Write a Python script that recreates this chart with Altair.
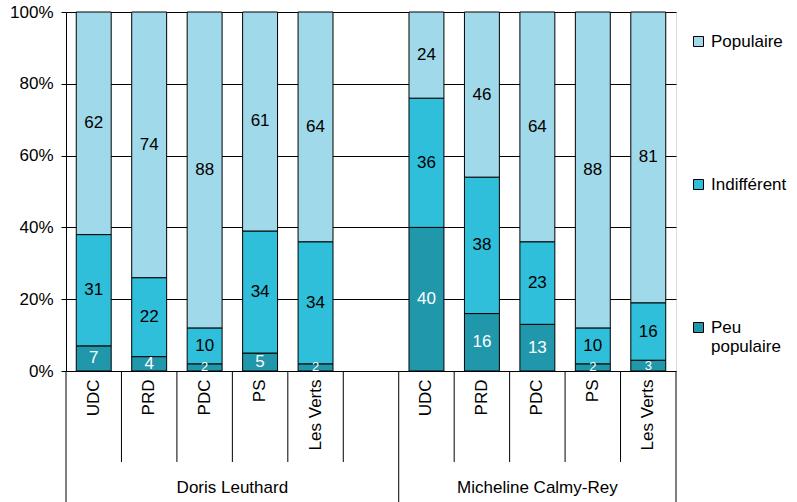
import altair as alt
import pandas as pd

candidates = ["Doris Leuthard", "Micheline Calmy-Rey"]
parties = ["UDC", "PRD", "PDC", "PS", "Les Verts"]
categories = ["Populaire", "Indifférent", "Peu populaire"]
stack_order = ["Peu populaire", "Indifférent", "Populaire"]
leuthard_peu = [7, 4, 2, 5, 2]
leuthard_ind = [31, 22, 10, 34, 34]
leuthard_pop = [62, 74, 88, 61, 64]
calmy_peu = [40, 16, 13, 2, 3]
calmy_ind = [36, 38, 23, 10, 16]
calmy_pop = [24, 46, 64, 88, 81]
y_ticks = [0, 20, 40, 60, 80, 100]
colors = ["#a0d9e9", "#2fbfda", "#2097ab"]

FONT = "Liberation Sans"
series = {
    candidates[0]: {"Peu populaire": leuthard_peu, "Indifférent": leuthard_ind, "Populaire": leuthard_pop},
    candidates[1]: {"Peu populaire": calmy_peu, "Indifférent": calmy_ind, "Populaire": calmy_pop},
}
GAP = "gap|"
slots = [f"{candidates[0]}|{p}" for p in parties] + [GAP] + [f"{candidates[1]}|{p}" for p in parties]

rows = []
for cand in candidates:
    for i, p in enumerate(parties):
        for order, cat in enumerate(stack_order):
            rows.append(dict(slot=f"{cand}|{p}", cat=cat, order=order, value=series[cand][cat][i]))
df = pd.DataFrame(rows)

W, H = 610, 359
step = W / len(slots)

xscale = alt.Scale(domain=slots, paddingInner=0.37, paddingOuter=0.185)
xaxis = alt.Axis(title=None, labelExpr="split(datum.value, '|')[1]", labelAngle=270,
                 labelAlign="right", labelBaseline="middle", ticks=False, domain=False,
                 labelPadding=8, labelFontSize=17, labelColor="black", labelFont=FONT,
                 grid=False, labelOverlap=False)
X = alt.X("slot:N", scale=xscale, axis=xaxis)

yscale = alt.Scale(domain=[0, 100], nice=False)
yaxis = alt.Axis(values=y_ticks, labelExpr="datum.value + '%'", title=None, grid=True,
                 gridColor="black", gridOpacity=1, gridWidth=1, domainColor="black",
                 tickColor="black", tickSize=5, labelFontSize=17, labelPadding=8,
                 labelColor="black", labelFont=FONT)

base = alt.Chart(df).transform_stack(
    stack="value", groupby=["slot"], sort=[alt.SortField("order")], as_=["y0", "y1"]
).transform_calculate(mid="(datum.y0 + datum.y1) / 2")

legend = alt.Legend(title=None, orient="none", legendX=624, legendY=21, symbolType="square",
                    symbolSize=100, symbolStrokeColor="black", symbolStrokeWidth=1,
                    labelFontSize=17, labelFont=FONT, labelColor="black", labelOffset=4,
                    rowPadding=125, labelLimit=0,
                    labelExpr="datum.label == 'Peu populaire' ? ['Peu', 'populaire'] : datum.label")

bars = base.mark_bar(stroke="black", strokeWidth=1).encode(
    x=X,
    y=alt.Y("y0:Q", scale=yscale, axis=yaxis),
    y2="y1:Q",
    color=alt.Color("cat:N", scale=alt.Scale(domain=categories, range=colors), legend=legend),
)

labels = base.mark_text(font=FONT).encode(
    x=X,
    y=alt.Y("mid:Q", scale=yscale),
    text="value:Q",
    color=alt.condition("datum.cat == 'Peu populaire'", alt.value("white"), alt.value("black")),
    size=alt.condition("datum.value <= 3", alt.value(13), alt.value(17)),
)

long_starts = [slots[0], slots[6]]
sep_short = pd.DataFrame({"slot": [s for s in slots if s not in long_starts]})
sep_long = pd.DataFrame({"slot": long_starts})
sep_end = pd.DataFrame({"slot": [slots[-1]]})

rules_short = alt.Chart(sep_short).mark_rule(color="black", xOffset=-step / 2).encode(
    x=X, y=alt.value(H), y2=alt.value(450))
rules_long = alt.Chart(sep_long).mark_rule(color="black", xOffset=-step / 2).encode(
    x=X, y=alt.value(H), y2=alt.value(490))
rules_end = alt.Chart(sep_end).mark_rule(color="black", xOffset=step / 2).encode(
    x=X, y=alt.value(H), y2=alt.value(490))

g1 = alt.Chart(pd.DataFrame({"slot": [slots[3]], "name": [candidates[0]]})).mark_text(
    font=FONT, fontSize=17, color="black", xOffset=-step / 2, baseline="middle").encode(
    x=X, y=alt.value(476), text="name:N")
g2 = alt.Chart(pd.DataFrame({"slot": [slots[8]], "name": [candidates[1]]})).mark_text(
    font=FONT, fontSize=17, color="black", baseline="middle").encode(
    x=X, y=alt.value(476), text="name:N")

chart = alt.layer(bars, labels, rules_short, rules_long, rules_end, g1, g2).properties(
    width=W, height=H,
    autosize=alt.AutoSizeParams(type="none"),
    padding={"left": 66, "top": 12, "right": 121, "bottom": 131},
).configure_view(stroke=None).configure(font=FONT)

chart.save("out.html", embed_options={"renderer": "svg", "actions": False})
